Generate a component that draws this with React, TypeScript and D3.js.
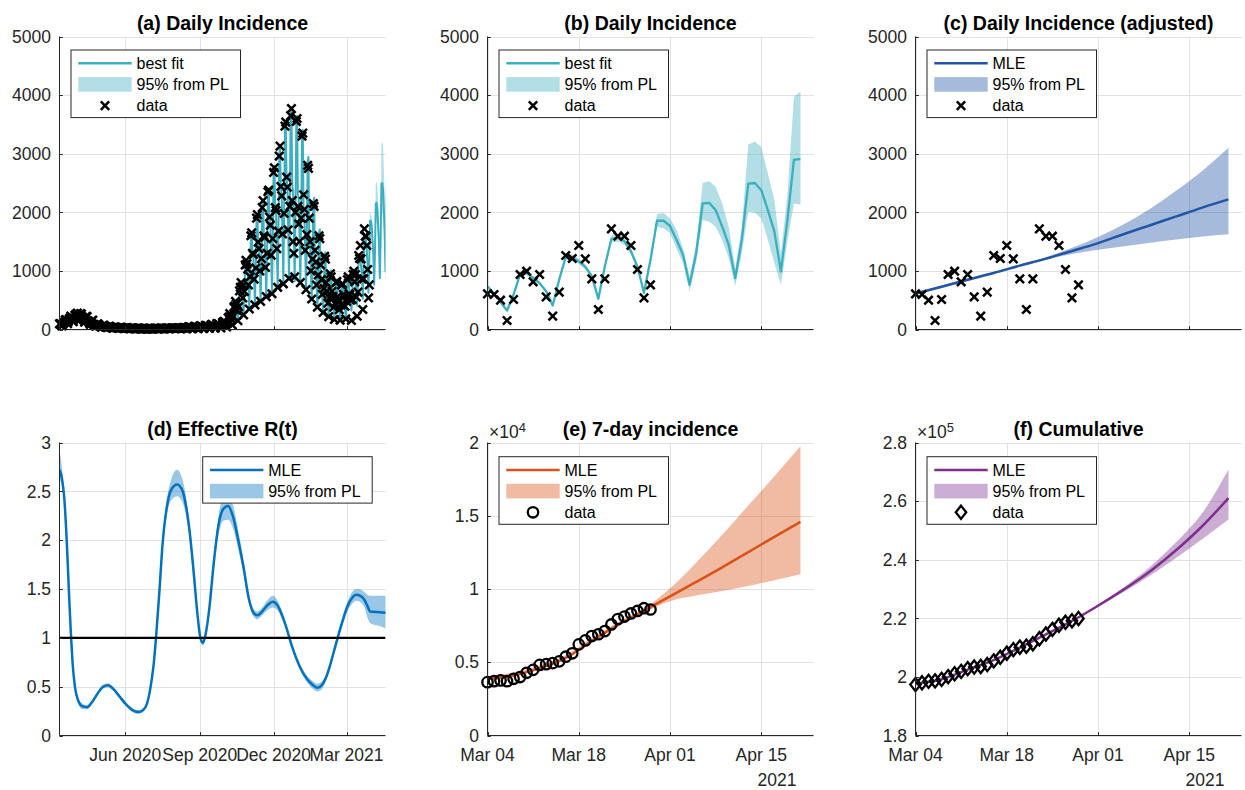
import React from "react";
import * as d3 from "d3";

// ---------------- layout ----------------
const W = 1245;
const H = 790;
const PW = 326;
const PH = 293;
const COLS = [59.5, 487.5, 915.5];
const ROWS = [36.5, 442.5];
const FONT = '"Liberation Sans", Arial, Helvetica, sans-serif';
const AX = "#262626";
const GRID = "#e2e2e2";

// ---------------- dates ----------------
const startLong = new Date(2020, 2, 12);
const endLong = new Date(2021, 3, 18);
const startShort = new Date(2021, 2, 4);
const endShort = new Date(2021, 3, 23);
const longTicks = [new Date(2020, 5, 1), new Date(2020, 8, 1), new Date(2020, 11, 1), new Date(2021, 2, 1)];
const shortTicks = [new Date(2021, 2, 4), new Date(2021, 2, 18), new Date(2021, 3, 1), new Date(2021, 3, 15)];

// ---------------- data: daily incidence (weeks Thu..Wed, from 12 Mar 2020) ----------------
const dailyFitWeeks2020: number[][] = [
  [99, 95, 81, 63, 81, 104, 108],
  [165, 158, 135, 105, 135, 172, 180],
  [220, 210, 180, 140, 180, 230, 240],
  [253, 241, 207, 161, 207, 264, 276],
  [209, 200, 171, 133, 171, 218, 228],
  [143, 136, 117, 91, 117, 150, 156],
  [88, 84, 72, 56, 72, 92, 96],
  [66, 63, 54, 42, 54, 69, 72],
  [50, 47, 40, 32, 40, 52, 54],
  [38, 37, 32, 25, 32, 40, 42],
  [33, 32, 27, 21, 27, 35, 36],
  [28, 26, 22, 18, 22, 29, 30],
  [22, 21, 18, 14, 18, 23, 24],
  [20, 19, 16, 13, 16, 21, 22],
  [17, 16, 13, 10, 14, 17, 18],
  [16, 15, 14, 11, 13, 18, 17],
  [17, 15, 13, 10, 14, 17, 19],
  [18, 17, 14, 11, 15, 18, 19],
  [20, 19, 16, 12, 16, 21, 22],
  [22, 21, 18, 14, 18, 23, 24],
  [24, 23, 20, 15, 20, 25, 27],
  [27, 26, 22, 17, 22, 29, 30],
  [32, 30, 21, 11, 26, 45, 47],
  [37, 35, 25, 12, 30, 52, 54],
  [42, 40, 28, 14, 34, 60, 62],
  [47, 45, 32, 16, 38, 68, 70],
  [58, 55, 39, 19, 47, 82, 85],
  [68, 65, 46, 23, 55, 98, 101],
  [84, 80, 56, 28, 68, 120, 124],
  [137, 130, 91, 46, 111, 195, 202],
  [263, 250, 175, 88, 213, 375, 388],
  [473, 450, 315, 158, 383, 675, 698],
  [788, 750, 525, 263, 638, 1125, 1163],
  [1103, 1050, 735, 368, 893, 1575, 1628],
  [1313, 1250, 875, 438, 1063, 1875, 1938],
  [1470, 1400, 980, 490, 1190, 2100, 2170],
  [1628, 1550, 1085, 543, 1318, 2325, 2403],
  [1890, 1800, 1260, 630, 1530, 2700, 2790],
  [2100, 2000, 1400, 700, 1700, 3000, 3100],
  [2415, 2300, 1610, 805, 1955, 3450, 3565],
  [2573, 2450, 1715, 858, 2083, 3675, 3798],
  [2468, 2350, 1645, 823, 1998, 3525, 3643],
  [2310, 2200, 1540, 770, 1870, 3300, 3410],
  [1995, 1900, 1330, 665, 1615, 2850, 2945],
  [1523, 1450, 1015, 508, 1233, 2175, 2248],
  [1155, 1100, 770, 385, 935, 1650, 1705],
  [893, 850, 595, 298, 723, 1275, 1318],
  [683, 650, 455, 228, 553, 975, 1008],
  [578, 550, 385, 193, 468, 825, 853],
  [525, 500, 350, 175, 425, 750, 775],
  [578, 550, 385, 193, 468, 825, 853],
];

const dailyDataWeeks2020: number[][] = [
  [95, 100, 78, 60, 85, 110, 120],
  [160, 170, 130, 100, 140, 180, 195],
  [230, 205, 185, 135, 190, 240, 255],
  [260, 280, 200, 150, 210, 270, 265],
  [215, 195, 165, 125, 175, 225, 220],
  [145, 140, 110, 85, 120, 150, 160],
  [90, 80, 70, 55, 75, 95, 90],
  [65, 60, 50, 40, 55, 70, 70],
  [50, 45, 40, 30, 42, 55, 52],
  [40, 36, 30, 22, 33, 42, 40],
  [32, 30, 26, 20, 28, 35, 36],
  [30, 25, 20, 17, 24, 28, 31],
  [21, 22, 17, 15, 19, 24, 23],
  [19, 20, 15, 12, 17, 20, 23],
  [18, 15, 14, 9, 15, 16, 19],
  [15, 16, 13, 12, 12, 19, 16],
  [18, 14, 12, 11, 13, 18, 20],
  [17, 18, 15, 10, 16, 17, 20],
  [21, 18, 17, 11, 15, 22, 21],
  [23, 20, 19, 13, 17, 24, 25],
  [25, 22, 19, 16, 21, 26, 26],
  [28, 25, 23, 16, 21, 30, 31],
  [33, 29, 22, 12, 25, 47, 45],
  [36, 37, 24, 13, 31, 50, 56],
  [44, 39, 29, 13, 35, 58, 64],
  [46, 47, 31, 17, 37, 70, 68],
  [60, 53, 40, 18, 49, 80, 88],
  [66, 67, 44, 24, 53, 101, 98],
  [87, 78, 58, 27, 70, 117, 128],
  [140, 125, 95, 44, 105, 200, 210],
  [270, 240, 180, 80, 220, 380, 400],
  [480, 440, 320, 150, 390, 660, 720],
  [800, 730, 540, 250, 650, 1100, 1180],
  [1120, 1030, 760, 350, 900, 1600, 1650],
  [1300, 1280, 860, 420, 1050, 1900, 1960],
  [1490, 1380, 1000, 480, 1210, 2080, 2200],
  [1600, 1570, 1060, 560, 1300, 2350, 2380],
  [1920, 1780, 1270, 610, 1550, 2680, 2760],
  [2080, 2030, 1380, 720, 1680, 2960, 3130],
  [2440, 2280, 1630, 780, 1980, 3470, 3540],
  [2600, 2430, 1700, 870, 2100, 3650, 3770],
  [2200, 1500, 1300, 900, 2000, 3550, 3600],
  [2100, 1800, 1500, 800, 1900, 3300, 3350],
  [2300, 2050, 1350, 680, 1620, 2800, 2750],
  [1900, 1500, 1000, 520, 1200, 2150, 2100],
  [1350, 1150, 760, 380, 930, 1600, 1550],
  [1100, 850, 600, 290, 700, 1250, 1200],
  [800, 650, 450, 220, 540, 950, 900],
  [650, 560, 380, 170, 450, 800, 820],
  [560, 500, 340, 160, 420, 760, 780],
  [600, 560, 400, 180, 480, 850, 900],
];

// daily data from 4 Mar 2021
const dailyData2021 = [609, 597, 500, 154, 512, 939, 995, 814, 939, 557, 228, 637, 1263, 1212, 1433, 1206, 865, 341, 865, 1718, 1592, 1592, 1433, 1024, 540, 762];
// best fit (daily, with weekly effect) from 4 Mar 2021
const dailyFit2021 = [739, 610, 470, 324, 597, 940, 967, 880, 790, 654, 410, 853, 1240, 1223, 1166, 1070, 910, 524, 1080, 1548, 1565, 1507, 1336, 1070, 626, 1190, 1856, 1856, 1766, 1528, 1273, 764, 1300, 2150, 2162, 2037, 1754, 1443, 877, 1528, 2490, 2500, 2377, 2037, 1670, 990, 1868, 2898, 2909];
const dailyFitHi2021 = [769, 634, 489, 337, 621, 978, 1006, 915, 822, 680, 426, 887, 1290, 1272, 1213, 1113, 946, 545, 1123, 1610, 1628, 1567, 1389, 1113, 651, 1238, 1970, 1990, 1896, 1700, 1387, 905, 1450, 2500, 2530, 2434, 2150, 1755, 1047, 1755, 3158, 3209, 3113, 2660, 2207, 1302, 2300, 3973, 4063];
const dailyFitLo2021 = [709, 586, 451, 311, 573, 902, 928, 845, 758, 628, 394, 819, 1190, 1174, 1119, 1027, 874, 503, 1037, 1486, 1502, 1447, 1283, 1027, 601, 1142, 1755, 1726, 1641, 1380, 1132, 650, 1150, 1868, 1840, 1755, 1528, 1217, 736, 1300, 2009, 1992, 1896, 1528, 1132, 764, 1500, 2150, 2134];

// smooth model curves, days since 4 Mar 2021
const curveDays = [0, 4, 8, 12, 16, 20, 24, 28, 32, 36, 40, 44, 48];
const adjMle = [615, 730, 850, 965, 1090, 1210, 1340, 1475, 1630, 1780, 1930, 2080, 2220];
const adjHi = [635, 750, 870, 985, 1110, 1235, 1395, 1580, 1800, 2060, 2370, 2710, 3100];
const adjLo = [595, 710, 830, 945, 1070, 1185, 1290, 1360, 1420, 1480, 1535, 1585, 1625];

const week7Data = [3640, 3710, 3760, 3710, 3870, 3990, 4280, 4480, 4820, 4870, 4940, 5060, 5380, 5610, 6220, 6490, 6790, 6910, 7130, 7580, 7950, 8120, 8330, 8500, 8690, 8600];
const week7Mle = [3850, 4100, 4600, 5300, 6450, 7550, 8520, 9500, 10480, 11480, 12520, 13560, 14580];
const week7Hi = [4050, 4300, 4800, 5480, 6650, 7720, 8650, 10050, 11800, 13700, 15700, 17700, 19750];
const week7Lo = [3780, 4030, 4520, 5220, 6370, 7460, 8400, 9170, 9550, 9870, 10200, 10600, 11000];

const cumData = [197400, 197994, 198486, 198639, 199148, 200082, 201072, 201876, 202810, 203359, 203574, 204208, 205464, 206681, 208096, 209296, 210145, 210485, 211334, 213043, 214628, 216213, 217628, 218647, 219173, 219937];
const cumMle = [197700, 199200, 202500, 205700, 210000, 214500, 219100, 224300, 229900, 236100, 243300, 251500, 261000];
const cumHi = [197900, 199400, 202700, 205900, 210200, 214700, 219300, 224700, 230700, 237600, 246000, 256000, 270800];
const cumLo = [197500, 199000, 202300, 205500, 209800, 214300, 218900, 223900, 229100, 234600, 240700, 247100, 253700];

// effective reproduction number, days since 12 Mar 2020
const rDays = [0, 3, 6, 9, 12, 14, 16, 19, 23, 28, 34, 40, 47, 54, 60, 66, 74, 82, 90, 97, 103, 108, 112, 116, 119, 123, 127, 132, 138, 145, 151, 156, 161, 166, 170, 174, 177, 180, 185, 190, 196, 202, 208, 214, 220, 227, 233, 239, 244, 250, 256, 263, 269, 275, 280, 286, 292, 299, 306, 312, 318, 323, 328, 333, 338, 343, 349, 355, 361, 366, 371, 376, 380, 383, 395, 406];
const rMle = [2.72, 2.63, 2.42, 1.98, 1.4, 1.05, 0.76, 0.5, 0.36, 0.3, 0.29, 0.34, 0.43, 0.5, 0.515, 0.48, 0.4, 0.32, 0.26, 0.24, 0.26, 0.33, 0.48, 0.72, 1.0, 1.45, 1.95, 2.32, 2.52, 2.57, 2.52, 2.35, 2.05, 1.62, 1.25, 0.99, 0.95, 1.03, 1.32, 1.75, 2.15, 2.32, 2.35, 2.24, 2.02, 1.72, 1.42, 1.26, 1.23, 1.27, 1.33, 1.37, 1.33, 1.22, 1.1, 0.93, 0.79, 0.66, 0.57, 0.52, 0.49, 0.51, 0.58, 0.7, 0.85, 1.0, 1.17, 1.32, 1.41, 1.44, 1.43, 1.39, 1.32, 1.27, 1.262, 1.255];
const rLo = [2.62, 2.55, 2.36, 1.93, 1.37, 1.02, 0.73, 0.47, 0.33, 0.27, 0.27, 0.32, 0.41, 0.48, 0.495, 0.46, 0.38, 0.3, 0.24, 0.22, 0.24, 0.31, 0.46, 0.7, 0.98, 1.42, 1.9, 2.24, 2.41, 2.45, 2.4, 2.25, 1.98, 1.57, 1.22, 0.96, 0.92, 1.0, 1.28, 1.69, 2.05, 2.2, 2.21, 2.12, 1.92, 1.65, 1.37, 1.22, 1.19, 1.23, 1.28, 1.31, 1.28, 1.18, 1.07, 0.9, 0.76, 0.63, 0.535, 0.48, 0.45, 0.47, 0.55, 0.67, 0.82, 0.97, 1.13, 1.27, 1.35, 1.38, 1.365, 1.31, 1.2, 1.15, 1.12, 1.08];
const rHi = [2.92, 2.75, 2.5, 2.03, 1.43, 1.08, 0.79, 0.53, 0.39, 0.33, 0.31, 0.36, 0.45, 0.52, 0.535, 0.5, 0.42, 0.34, 0.28, 0.26, 0.28, 0.35, 0.5, 0.74, 1.02, 1.48, 2.0, 2.4, 2.63, 2.72, 2.64, 2.45, 2.12, 1.67, 1.28, 1.02, 0.98, 1.06, 1.36, 1.81, 2.25, 2.44, 2.47, 2.36, 2.12, 1.79, 1.47, 1.3, 1.27, 1.31, 1.38, 1.43, 1.38, 1.26, 1.13, 0.96, 0.82, 0.69, 0.605, 0.56, 0.53, 0.55, 0.61, 0.73, 0.88, 1.03, 1.21, 1.37, 1.47, 1.5, 1.495, 1.47, 1.44, 1.43, 1.43, 1.43];

// axis ticks
const incTicks = [0, 1000, 2000, 3000, 4000, 5000];
const rTicks = [0, 0.5, 1, 1.5, 2, 2.5, 3];
const week7Ticks = [0, 5000, 10000, 15000, 20000];
const cumTicks = [180000, 200000, 220000, 240000, 260000, 280000];

// colours
const TEAL = "#3BAEBF";
const NAVY = "#2156A6";
const BLUE = "#0072BD";
const ORANGE = "#D95319";
const PURPLE = "#7E2F8E";

// ---------------- helpers ----------------
const dayL = (d: number) => d3.timeDay.offset(startLong, d);
const dayS = (d: number) => d3.timeDay.offset(startShort, d);
const shortOffset = d3.timeDay.count(startLong, startShort);

const dailyFitAll = [...dailyFitWeeks2020.flat(), ...dailyFit2021];
const dailyDataAll = [...dailyDataWeeks2020.flat(), ...dailyData2021];

const xMark = (cx: number, cy: number, k: string | number, s = 4.2) => (
  <path key={k} d={`M${cx - s},${cy - s}L${cx + s},${cy + s}M${cx - s},${cy + s}L${cx + s},${cy - s}`} stroke="#000" strokeWidth={2.5} fill="none" />
);
const oMark = (cx: number, cy: number, k: string | number) => (
  <circle key={k} cx={cx} cy={cy} r={5.2} stroke="#000" strokeWidth={2.3} fill="none" />
);
const dMark = (cx: number, cy: number, k: string | number) => (
  <path key={k} d={`M${cx},${cy - 6.6}L${cx + 5.2},${cy}L${cx},${cy + 6.6}L${cx - 5.2},${cy}Z`} stroke="#000" strokeWidth={2.3} fill="none" />
);

type LegRow = { kind: "line" | "patch" | "x" | "o" | "d"; color: string; label: string };
function Legend({ x, y, rows }: { x: number; y: number; rows: LegRow[] }) {
  const w = 169.5;
  const rh = 21.2;
  const h = rows.length * rh + 4;
  return (
    <g>
      <rect x={x} y={y} width={w} height={h} fill="#fff" stroke={AX} strokeWidth={1} />
      {rows.map((r, i) => {
        const cy = y + 13.2 + i * rh;
        const cx = x + 34;
        let sym: React.ReactNode = null;
        if (r.kind === "line") sym = <line x1={x + 7.3} x2={x + 60.7} y1={cy} y2={cy} stroke={r.color} strokeWidth={2.5} />;
        if (r.kind === "patch") sym = <rect x={x + 7.3} y={cy - 7.3} width={53.4} height={14.6} fill={r.color} fillOpacity={0.4} />;
        if (r.kind === "x") sym = xMark(cx, cy, "lx");
        if (r.kind === "o") sym = oMark(cx, cy, "lo");
        if (r.kind === "d") sym = dMark(cx, cy, "ld");
        return (
          <g key={i}>
            {sym}
            <text x={x + 65.5} y={cy + 5.6} fontSize={16} fill="#000">
              {r.label}
            </text>
          </g>
        );
      })}
    </g>
  );
}

type PanelProps = {
  left: number;
  top: number;
  x: any;
  y: any;
  xTicks: Date[];
  xFmt?: (d: Date) => string;
  yTicks: number[];
  yFmt: (v: number) => string;
  title: string;
  id: string;
  clipped?: React.ReactNode;
  over?: React.ReactNode;
  legend?: React.ReactNode;
  exponent?: string;
  year?: string;
};

function Panel(p: PanelProps) {
  const R = p.left + PW;
  const B = p.top + PH;
  const tl = 3.3;
  return (
    <g>
      <defs>
        <clipPath id={p.id}>
          <rect x={p.left} y={p.top} width={PW} height={PH} />
        </clipPath>
      </defs>
      {p.xTicks.map((t, i) => (
        <line key={"gx" + i} x1={Math.round(p.x(t)) + 0.5} x2={Math.round(p.x(t)) + 0.5} y1={p.top} y2={B} stroke={GRID} strokeWidth={1} />
      ))}
      {p.yTicks.map((t, i) => (
        <line key={"gy" + i} x1={p.left} x2={R} y1={Math.round(p.y(t)) + 0.5} y2={Math.round(p.y(t)) + 0.5} stroke={GRID} strokeWidth={1} />
      ))}
      <g clipPath={`url(#${p.id})`}>{p.clipped}</g>
      {p.over}
      <line x1={p.left} x2={p.left} y1={p.top} y2={B} stroke={AX} strokeWidth={1} />
      <line x1={p.left} x2={R} y1={B} y2={B} stroke={AX} strokeWidth={1} />
      {p.xTicks.map((t, i) => (
        <line key={"tx" + i} x1={Math.round(p.x(t)) + 0.5} x2={Math.round(p.x(t)) + 0.5} y1={B} y2={B - tl} stroke={AX} strokeWidth={1} />
      ))}
      {p.yTicks.map((t, i) => (
        <line key={"ty" + i} x1={p.left} x2={p.left + tl} y1={Math.round(p.y(t)) + 0.5} y2={Math.round(p.y(t)) + 0.5} stroke={AX} strokeWidth={1} />
      ))}
      {p.yTicks.map((t, i) => (
        <text key={"ly" + i} x={p.left - 8.5} y={p.y(t) + 6.2} textAnchor="end" fontSize={17.5} fill={AX}>
          {p.yFmt(t)}
        </text>
      ))}
      {p.xFmt &&
        p.xTicks.map((t, i) => (
          <text key={"lx" + i} x={p.x(t)} y={B + 25.5} textAnchor="middle" fontSize={17.5} fill={AX}>
            {p.xFmt!(t)}
          </text>
        ))}
      {p.year && (
        <text x={R - 17} y={B + 50.5} textAnchor="end" fontSize={17.5} fill={AX}>
          {p.year}
        </text>
      )}
      {p.exponent && (
        <text x={p.left + 1.5} y={p.top - 4.5} fontSize={17.5} fill={AX}>
          {"\u00d710"}
          <tspan dy={-6.5} fontSize={13}>
            {p.exponent}
          </tspan>
        </text>
      )}
      <text x={p.left + PW / 2} y={p.top - 6.3} textAnchor="middle" fontSize={19.5} fontWeight="bold" fill="#000">
        {p.title}
      </text>
      {p.legend}
    </g>
  );
}

export default function App() {
  const fmtLong = d3.timeFormat("%b %Y");
  const fmtShort = d3.timeFormat("%b %d");
  const intFmt = (v: number) => String(v);

  // ---- (a) ----
  const la = COLS[0], ta = ROWS[0];
  const xa = d3.scaleTime().domain([startLong, endLong]).range([la, la + PW]);
  const ya = d3.scaleLinear().domain([0, 5000]).range([ta + PH, ta]);
  const lineA = d3.line<number>().x((_, i) => xa(dayL(i))).y((v) => ya(v));
  const bandA = d3
    .area<number>()
    .x((_, i) => xa(dayL(shortOffset + i)))
    .y0((_, i) => ya(dailyFitLo2021[i]))
    .y1((_, i) => ya(dailyFitHi2021[i]));

  // ---- (b) ----
  const lb = COLS[1], tb = ROWS[0];
  const xb = d3.scaleTime().domain([startShort, endShort]).range([lb, lb + PW]);
  const yb = d3.scaleLinear().domain([0, 5000]).range([tb + PH, tb]);
  const lineB = d3.line<number>().x((_, i) => xb(dayS(i))).y((v) => yb(v));
  const bandB = d3
    .area<number>()
    .x((_, i) => xb(dayS(i)))
    .y0((_, i) => yb(dailyFitLo2021[i]))
    .y1((_, i) => yb(dailyFitHi2021[i]));

  // ---- (c) ----
  const lc = COLS[2], tc = ROWS[0];
  const xc = d3.scaleTime().domain([startShort, endShort]).range([lc, lc + PW]);
  const yc = d3.scaleLinear().domain([0, 5000]).range([tc + PH, tc]);
  const lineC = d3.line<number>().x((_, i) => xc(dayS(curveDays[i]))).y((v) => yc(v)).curve(d3.curveMonotoneX);
  const bandC = d3
    .area<number>()
    .x((_, i) => xc(dayS(curveDays[i])))
    .y0((_, i) => yc(adjLo[i]))
    .y1((_, i) => yc(adjHi[i]))
    .curve(d3.curveMonotoneX);

  // ---- (d) ----
  const ld = COLS[0], td = ROWS[1];
  const xd = d3.scaleTime().domain([startLong, endLong]).range([ld, ld + PW]);
  const yd = d3.scaleLinear().domain([0, 3]).range([td + PH, td]);
  const lineD = d3.line<number>().x((_, i) => xd(dayL(rDays[i]))).y((v) => yd(v)).curve(d3.curveMonotoneX);
  const bandD = d3
    .area<number>()
    .x((_, i) => xd(dayL(rDays[i])))
    .y0((_, i) => yd(rLo[i]))
    .y1((_, i) => yd(rHi[i]))
    .curve(d3.curveMonotoneX);

  // ---- (e) ----
  const le = COLS[1], te = ROWS[1];
  const xe = d3.scaleTime().domain([startShort, endShort]).range([le, le + PW]);
  const ye = d3.scaleLinear().domain([0, 20000]).range([te + PH, te]);
  const lineE = d3.line<number>().x((_, i) => xe(dayS(curveDays[i]))).y((v) => ye(v)).curve(d3.curveMonotoneX);
  const bandE = d3
    .area<number>()
    .x((_, i) => xe(dayS(curveDays[i])))
    .y0((_, i) => ye(week7Lo[i]))
    .y1((_, i) => ye(week7Hi[i]))
    .curve(d3.curveMonotoneX);

  // ---- (f) ----
  const lf = COLS[2], tf = ROWS[1];
  const xf = d3.scaleTime().domain([startShort, endShort]).range([lf, lf + PW]);
  const yf = d3.scaleLinear().domain([180000, 280000]).range([tf + PH, tf]);
  const lineF = d3.line<number>().x((_, i) => xf(dayS(curveDays[i]))).y((v) => yf(v)).curve(d3.curveMonotoneX);
  const bandF = d3
    .area<number>()
    .x((_, i) => xf(dayS(curveDays[i])))
    .y0((_, i) => yf(cumLo[i]))
    .y1((_, i) => yf(cumHi[i]))
    .curve(d3.curveMonotoneX);

  const legX = (l: number) => l + 11.5;

  return (
    <svg
      width={W}
      height={H}
      viewBox={`0 0 ${W} ${H}`}
      style={{ position: "absolute", left: 0, top: 0, display: "block", background: "#fff" }}
      fontFamily={FONT}
    >
      <rect x={0} y={0} width={W} height={H} fill="#fff" />

      <Panel
        left={la}
        top={ta}
        x={xa}
        y={ya}
        xTicks={longTicks}
        yTicks={incTicks}
        yFmt={intFmt}
        title="(a) Daily Incidence"
        id="clipA"
        clipped={
          <>
            <path d={bandA(dailyFitHi2021) || ""} fill={TEAL} fillOpacity={0.4} />
            <path d={lineA(dailyFitAll) || ""} fill="none" stroke={TEAL} strokeWidth={2} strokeLinejoin="round" />
          </>
        }
        over={<g>{dailyDataAll.map((v, i) => xMark(xa(dayL(i)), ya(v), i))}</g>}
        legend={
          <Legend
            x={legX(la)}
            y={ta + 13.5}
            rows={[
              { kind: "line", color: TEAL, label: "best fit" },
              { kind: "patch", color: TEAL, label: "95% from PL" },
              { kind: "x", color: "#000", label: "data" },
            ]}
          />
        }
      />

      <Panel
        left={lb}
        top={tb}
        x={xb}
        y={yb}
        xTicks={shortTicks}
        yTicks={incTicks}
        yFmt={intFmt}
        title="(b) Daily Incidence"
        id="clipB"
        clipped={
          <>
            <path d={bandB(dailyFitHi2021) || ""} fill={TEAL} fillOpacity={0.4} />
            <path d={lineB(dailyFit2021) || ""} fill="none" stroke={TEAL} strokeWidth={2.3} strokeLinejoin="round" />
          </>
        }
        over={<g>{dailyData2021.map((v, i) => xMark(xb(dayS(i)), yb(v), i))}</g>}
        legend={
          <Legend
            x={legX(lb)}
            y={tb + 13.5}
            rows={[
              { kind: "line", color: TEAL, label: "best fit" },
              { kind: "patch", color: TEAL, label: "95% from PL" },
              { kind: "x", color: "#000", label: "data" },
            ]}
          />
        }
      />

      <Panel
        left={lc}
        top={tc}
        x={xc}
        y={yc}
        xTicks={shortTicks}
        yTicks={incTicks}
        yFmt={intFmt}
        title="(c) Daily Incidence (adjusted)"
        id="clipC"
        clipped={
          <>
            <path d={bandC(adjHi) || ""} fill={NAVY} fillOpacity={0.4} />
            <path d={lineC(adjMle) || ""} fill="none" stroke={NAVY} strokeWidth={2.5} />
          </>
        }
        over={<g>{dailyData2021.map((v, i) => xMark(xc(dayS(i)), yc(v), i))}</g>}
        legend={
          <Legend
            x={legX(lc)}
            y={tc + 13.5}
            rows={[
              { kind: "line", color: NAVY, label: "MLE" },
              { kind: "patch", color: NAVY, label: "95% from PL" },
              { kind: "x", color: "#000", label: "data" },
            ]}
          />
        }
      />

      <Panel
        left={ld}
        top={td}
        x={xd}
        y={yd}
        xTicks={longTicks}
        xFmt={fmtLong}
        yTicks={rTicks}
        yFmt={(v) => String(v)}
        title="(d) Effective R(t)"
        id="clipD"
        clipped={
          <>
            <path d={bandD(rHi) || ""} fill={BLUE} fillOpacity={0.4} />
            <path d={lineD(rMle) || ""} fill="none" stroke={BLUE} strokeWidth={2.5} />
            <line x1={ld} x2={ld + PW} y1={yd(1)} y2={yd(1)} stroke="#000" strokeWidth={2.3} />
          </>
        }
        legend={
          <Legend
            x={ld + PW - 13.3 - 169.5}
            y={td + 14.2}
            rows={[
              { kind: "line", color: BLUE, label: "MLE" },
              { kind: "patch", color: BLUE, label: "95% from PL" },
            ]}
          />
        }
      />

      <Panel
        left={le}
        top={te}
        x={xe}
        y={ye}
        xTicks={shortTicks}
        xFmt={fmtShort}
        yTicks={week7Ticks}
        yFmt={(v) => String(v / 10000)}
        title="(e) 7-day incidence"
        id="clipE"
        exponent="4"
        year="2021"
        clipped={
          <>
            <path d={bandE(week7Hi) || ""} fill={ORANGE} fillOpacity={0.4} />
            <path d={lineE(week7Mle) || ""} fill="none" stroke={ORANGE} strokeWidth={2.5} />
          </>
        }
        over={<g>{week7Data.map((v, i) => oMark(xe(dayS(i)), ye(v), i))}</g>}
        legend={
          <Legend
            x={legX(le)}
            y={te + 14.2}
            rows={[
              { kind: "line", color: ORANGE, label: "MLE" },
              { kind: "patch", color: ORANGE, label: "95% from PL" },
              { kind: "o", color: "#000", label: "data" },
            ]}
          />
        }
      />

      <Panel
        left={lf}
        top={tf}
        x={xf}
        y={yf}
        xTicks={shortTicks}
        xFmt={fmtShort}
        yTicks={cumTicks}
        yFmt={(v) => String(Math.round(v / 10000) / 10)}
        title="(f) Cumulative"
        id="clipF"
        exponent="5"
        year="2021"
        clipped={
          <>
            <path d={bandF(cumHi) || ""} fill={PURPLE} fillOpacity={0.4} />
            <path d={lineF(cumMle) || ""} fill="none" stroke={PURPLE} strokeWidth={2.5} />
          </>
        }
        over={<g>{cumData.map((v, i) => dMark(xf(dayS(i)), yf(v), i))}</g>}
        legend={
          <Legend
            x={legX(lf)}
            y={tf + 14.2}
            rows={[
              { kind: "line", color: PURPLE, label: "MLE" },
              { kind: "patch", color: PURPLE, label: "95% from PL" },
              { kind: "d", color: "#000", label: "data" },
            ]}
          />
        }
      />
    </svg>
  );
}
